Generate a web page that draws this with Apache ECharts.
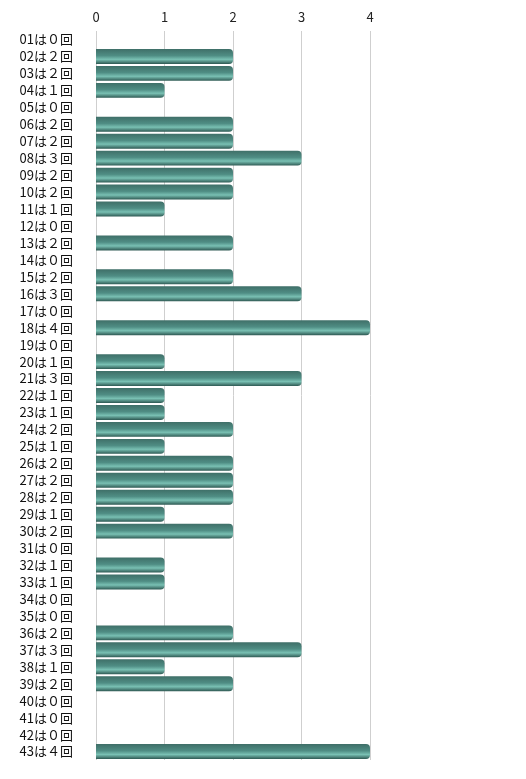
<!DOCTYPE html>
<html>
<head>
<meta charset="utf-8">
<script src="https://cdn.jsdelivr.net/npm/echarts@6/dist/echarts.min.js"></script>
<style>
  html, body { margin: 0; padding: 0; background: #fff; }
  #main { width: 526px; height: 779px; }
</style>
</head>
<body>
<div id="main"></div>
<script>
// 回数データ
var categories = ['01', '02', '03', '04', '05', '06', '07', '08', '09', '10',
  '11', '12', '13', '14', '15', '16', '17', '18', '19', '20',
  '21', '22', '23', '24', '25', '26', '27', '28', '29', '30',
  '31', '32', '33', '34', '35', '36', '37', '38', '39', '40',
  '41', '42', '43'];
var counts = [0, 2, 2, 1, 0, 2, 2, 3, 2, 2,
  1, 0, 2, 0, 2, 3, 0, 4, 0, 1,
  3, 1, 1, 2, 1, 2, 2, 2, 1, 2,
  0, 1, 1, 0, 0, 2, 3, 1, 2, 0,
  0, 0, 4];
var ticks = [0, 1, 2, 3, 4];

var zen = '０１２３４５６７８９';
var labels = categories.map(function (c, i) {
  return c + 'は' + zen[counts[i]] + '回';
});

var myChart = echarts.init(document.getElementById('main'));

var option = {
  animation: false,
  grid: { left: 96, right: 156, top: 31, bottom: 19 },
  xAxis: {
    type: 'value',
    position: 'top',
    min: ticks[0],
    max: ticks[ticks.length - 1],
    interval: 1,
    axisLine: { show: false },
    axisTick: { show: false },
    axisLabel: { color: '#222', fontSize: 13, margin: 7, fontFamily: 'Noto Sans CJK JP' },
    splitLine: { lineStyle: { color: '#cfcfcf', width: 1 } }
  },
  yAxis: {
    type: 'category',
    inverse: true,
    data: labels,
    axisLine: { show: false },
    axisTick: { show: false },
    axisLabel: { color: '#111', fontSize: 13, margin: 23, fontFamily: 'Noto Sans CJK JP' }
  },
  series: [{
    type: 'bar',
    data: counts,
    barWidth: '88%',
    itemStyle: {
      borderRadius: [0, 4, 4, 0],
      color: new echarts.graphic.LinearGradient(0, 0, 0, 1, [
        { offset: 0, color: '#3f6f68' },
        { offset: 0.45, color: '#4f8d84' },
        { offset: 0.7, color: '#79c0b3' },
        { offset: 1, color: '#2e5953' }
      ])
    }
  }]
};

myChart.setOption(option);
</script>
</body>
</html>
